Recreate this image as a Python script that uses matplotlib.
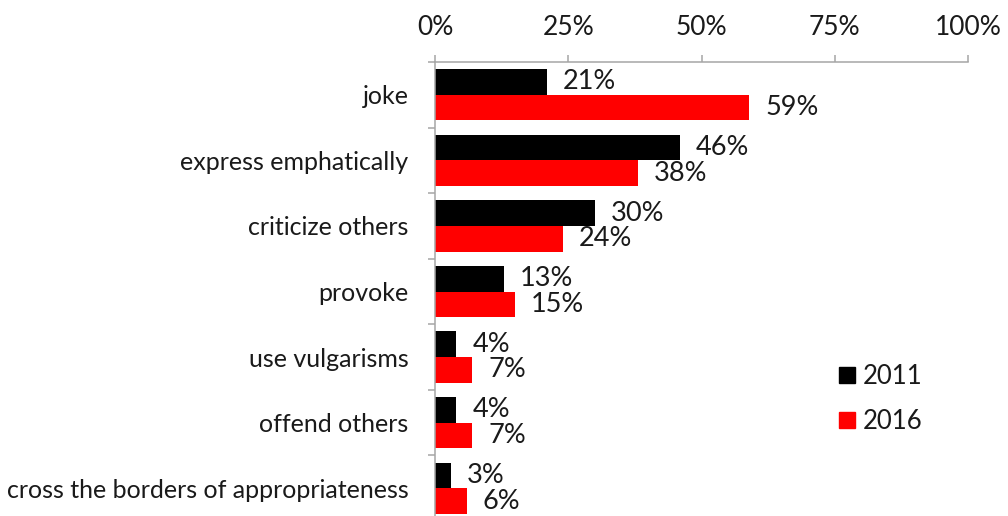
import numpy as np
import matplotlib
matplotlib.use("Agg")
import matplotlib.pyplot as plt
from matplotlib.patches import Patch

plt.rcParams['font.family'] = ['Lato', 'DejaVu Sans']
plt.rcParams['text.color'] = '#1a1a1a'
plt.rcParams['xtick.labelcolor'] = '#1a1a1a'
plt.rcParams['ytick.labelcolor'] = '#1a1a1a'

categories = ['joke', 'express emphatically', 'criticize others', 'provoke',
              'use vulgarisms', 'offend others', 'cross the borders of appropriateness']
vals_2011 = [21, 46, 30, 13, 4, 4, 3]
vals_2016 = [59, 38, 24, 15, 7, 7, 6]
years = ['2011', '2016']
colors = ['#000000', '#ff0000']

fig = plt.figure(figsize=(10.08, 5.16), dpi=100)
ax = fig.add_axes([435/1008, -5/516, 533/1008, 459/516])

n = len(categories)
y = np.arange(n)
h = 0.39
ax.barh(y - h/2, vals_2011, height=h, color=colors[0])
ax.barh(y + h/2, vals_2016, height=h, color=colors[1])

# value labels just right of each bar
for i in range(n):
    ax.text(vals_2011[i] + 3, y[i] - h/2, '%d%%' % vals_2011[i], va='center', ha='left', fontsize=19.5)
    ax.text(vals_2016[i] + 3, y[i] + h/2, '%d%%' % vals_2016[i], va='center', ha='left', fontsize=19.5)

ax.set_xlim(0, 100)
ax.set_ylim(n - 0.5, -0.5)
ax.xaxis.tick_top()
ax.set_xticks([0, 25, 50, 75, 100])
ax.set_xticklabels(['0%', '25%', '50%', '75%', '100%'], fontsize=19)
ax.tick_params(axis='x', length=5, width=1.1, color='#a6a6a6', pad=11)

ax.set_yticks(y)
ax.set_yticklabels(categories, fontsize=18)
ax.tick_params(axis='y', length=0, pad=19)
ax.set_yticks(np.arange(n + 1) - 0.5, minor=True)
ax.tick_params(axis='y', which='minor', length=5, width=1.1, color='#a6a6a6')

for s in ['right', 'bottom']:
    ax.spines[s].set_visible(False)
for s in ['left', 'top']:
    ax.spines[s].set_color('#a6a6a6')
    ax.spines[s].set_linewidth(1.1)

handles = [Patch(color=c) for c in colors]
ax.legend(handles, years, loc='center left', bbox_to_anchor=(0.715, 0.265), frameon=False,
          fontsize=18.5, handlelength=0.6, handleheight=0.6, handletextpad=0.3, labelspacing=0.78)

fig.savefig('out.png', dpi=100)
